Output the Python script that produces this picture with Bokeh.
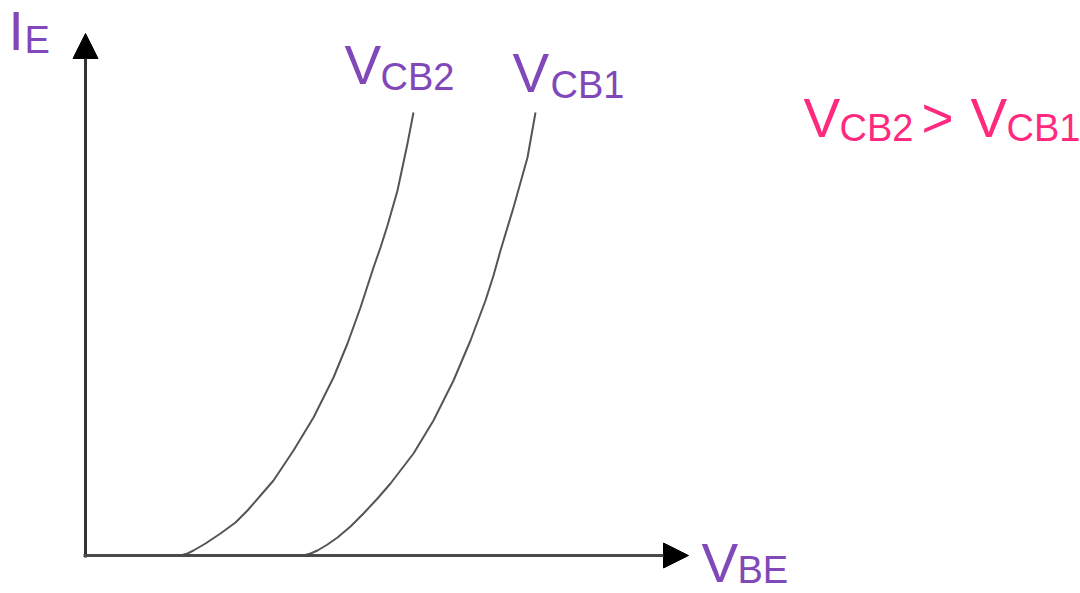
from bokeh.plotting import figure
from bokeh.models import Range1d, Label, Arrow, NormalHead
from bokeh.embed import file_html
from bokeh.resources import INLINE

# Input characteristic data (V_BE, I_E), arbitrary units
vbe_cb2 = [0.95, 1.02, 1.08, 1.20, 1.35, 1.50, 1.62, 1.75, 1.88, 2.08, 2.28, 2.48, 2.62, 2.75, 2.88, 2.95, 3.02, 3.12, 3.22, 3.28]
ie_cb2  = [0.00, 0.02, 0.05, 0.12, 0.22, 0.33, 0.45, 0.60, 0.75, 1.05, 1.38, 1.78, 2.12, 2.48, 2.88, 3.08, 3.30, 3.65, 4.12, 4.43]

vbe_cb1 = [2.18, 2.25, 2.32, 2.42, 2.52, 2.65, 2.78, 2.92, 3.05, 3.28, 3.48, 3.68, 3.85, 4.00, 4.08, 4.15, 4.28, 4.42, 4.50]
ie_cb1  = [0.00, 0.02, 0.05, 0.11, 0.18, 0.29, 0.42, 0.57, 0.72, 1.02, 1.35, 1.75, 2.15, 2.55, 2.80, 3.05, 3.48, 3.98, 4.43]

# axis extents
X_AXIS_END = 6.03
Y_AXIS_END = 5.22

PURPLE = "#8048b8"
PINK = "#ff2a7e"
FONT = "Liberation Sans"
BIG = "55px"
SUB = "38px"

p = figure(width=1080, height=593, output_backend="svg", toolbar_location=None,
           x_range=Range1d(-0.85, 9.95), y_range=Range1d(-0.38, 5.55),
           x_axis_location=None, y_axis_location=None, min_border=0)
p.grid.visible = False
p.outline_line_color = None
p.background_fill_color = "white"
p.border_fill_color = "white"

# axes with arrows
p.add_layout(Arrow(x_start=0, y_start=-0.02, x_end=0, y_end=Y_AXIS_END,
                   line_color="#333333", line_width=3,
                   end=NormalHead(size=25, fill_color="black", line_color="black", line_width=1)))
p.add_layout(Arrow(x_start=-0.02, y_start=0, x_end=X_AXIS_END, y_end=0,
                   line_color="#4a4a4a", line_width=3,
                   end=NormalHead(size=25, fill_color="black", line_color="black", line_width=1)))

# curves
p.line(vbe_cb2, ie_cb2, line_color="#555555", line_width=2, line_join="round")
p.line(vbe_cb1, ie_cb1, line_color="#555555", line_width=2, line_join="round")

def lab(x, y, t, size, color):
    p.add_layout(Label(x=x, y=y, text=t, text_font=FONT, text_font_size=size,
                       text_color=color, text_baseline="alphabetic", text_align="left"))

# I_E
lab(-0.77, 5.25, "I", BIG, PURPLE)
lab(-0.61, 5.16, "E", SUB, PURPLE)
# V_CB2
lab(2.59, 4.91, "V", BIG, PURPLE)
lab(2.95, 4.79, "CB2", SUB, PURPLE)
# V_CB1
lab(4.27, 4.83, "V", BIG, PURPLE)
lab(4.65, 4.71, "CB1", SUB, PURPLE)
# V_BE
lab(6.16, -0.07, "V", BIG, PURPLE)
lab(6.52, -0.14, "BE", SUB, PURPLE)
# V_CB2 > V_CB1
lab(7.18, 4.38, "V", BIG, PINK)
lab(7.54, 4.28, "CB2", SUB, PINK)
lab(8.36, 4.38, ">", BIG, PINK)
lab(8.85, 4.38, "V", BIG, PINK)
lab(9.21, 4.28, "CB1", SUB, PINK)

open("out.html", "w").write(file_html(p, INLINE))
